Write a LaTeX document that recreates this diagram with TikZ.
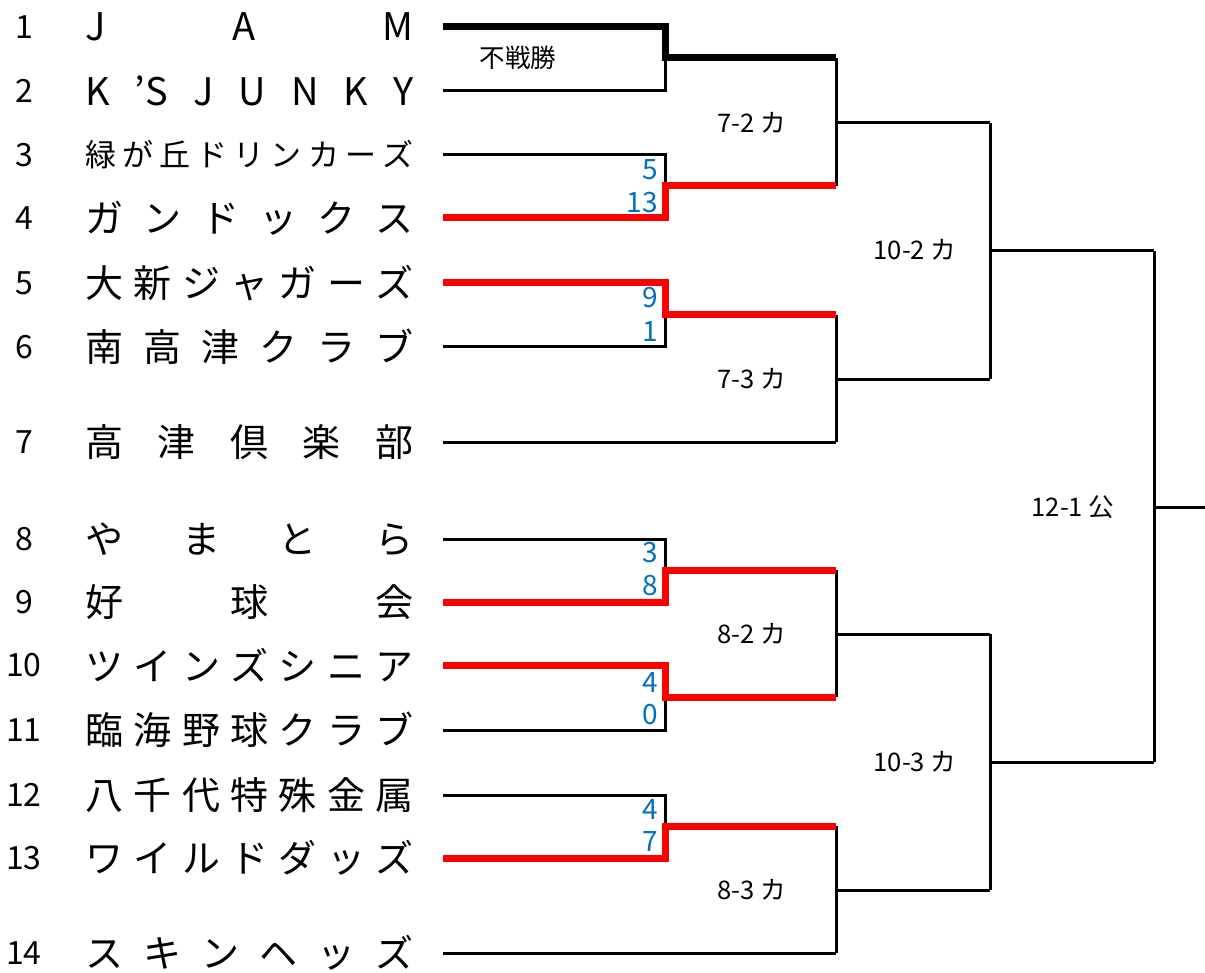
\documentclass[tikz,border=0pt]{standalone}
\usepackage{fontspec}
\setmainfont{Noto Sans CJK JP}
\definecolor{scoreblue}{HTML}{0070C0}
\newcommand{\teamname}[1]{\hbox to 164pt{#1}}
\begin{document}
\begin{tikzpicture}[x=0.5pt,y=-0.5pt,
  seed/.style={inner sep=0pt,font=\fontsize{16}{16}\selectfont},
  team/.style={anchor=west,inner sep=0pt,font=\fontsize{19}{19}\selectfont},
  score/.style={anchor=east,inner sep=0pt,text=scoreblue,font=\fontsize{14}{14}\selectfont},
  round/.style={inner sep=0pt,font=\fontsize{12.8}{12.8}\selectfont},
  line/.style={line width=1.5pt},
  win/.style={line width=3.5pt,red},
  byewin/.style={line width=3.5pt}]
\useasboundingbox (0,0) rectangle (1205,973);

% seed numbers
\foreach \n/\y in {1/27,2/91,3/155,4/218,5/283,6/347,7/442,8/539,9/602,10/665,11/730,12/795,13/858,14/953}
  \node[seed] (k\n) at (24,\y) {\n};

% team names
\node[team] (n1) at (85,27) {\teamname{J\hfill A\hfill M}};
\node[team] (n2) at (85,91) {\teamname{K\hfill ’S\hfill J\hfill U\hfill N\hfill K\hfill Y}};
\node[team,font=\fontsize{15.5}{15.5}\selectfont] (n3) at (85,155) {\teamname{緑\hfill が\hfill 丘\hfill ド\hfill リ\hfill ン\hfill カ\hfill ー\hfill ズ}};
\node[team] (n4) at (85,218) {\teamname{ガ\hfill ン\hfill ド\hfill ッ\hfill ク\hfill ス}};
\node[team] (n5) at (85,283) {\teamname{大\hfill 新\hfill ジ\hfill ャ\hfill ガ\hfill ー\hfill ズ}};
\node[team] (n6) at (85,347) {\teamname{南\hfill 高\hfill 津\hfill ク\hfill ラ\hfill ブ}};
\node[team] (n7) at (85,442) {\teamname{高\hfill 津\hfill 倶\hfill 楽\hfill 部}};
\node[team] (n8) at (85,539) {\teamname{や\hfill ま\hfill と\hfill ら}};
\node[team] (n9) at (85,602) {\teamname{好\hfill 球\hfill 会}};
\node[team] (n10) at (85,665) {\teamname{ツ\hfill イ\hfill ン\hfill ズ\hfill シ\hfill ニ\hfill ア}};
\node[team] (n11) at (85,730) {\teamname{臨\hfill 海\hfill 野\hfill 球\hfill ク\hfill ラ\hfill ブ}};
\node[team] (n12) at (85,795) {\teamname{八\hfill 千\hfill 代\hfill 特\hfill 殊\hfill 金\hfill 属}};
\node[team] (n13) at (85,858) {\teamname{ワ\hfill イ\hfill ル\hfill ド\hfill ダ\hfill ッ\hfill ズ}};
\node[team] (n14) at (85,953) {\teamname{ス\hfill キ\hfill ン\hfill ヘ\hfill ッ\hfill ズ}};

% bracket points
\foreach \n/\y in {1/27,2/91,3/155,4/218,5/283,6/347,7/442,8/539,9/602,10/665,11/730,12/795,13/858,14/953}
  \coordinate (a\n) at (443,\y);
\foreach \n/\y in {1/58,2/186,3/315,4/570,5/697,6/826}
  {\coordinate (m\n) at (665,\y); \coordinate (o\n) at (836,\y);}
\coordinate (o7) at (836,442);
\coordinate (o14) at (836,953);
\foreach \n/\y in {1/123,2/379,3/634,4/890}
  {\coordinate (r\n) at (836,\y); \coordinate (s\n) at (990,\y);}
\coordinate (t1) at (990,251); \coordinate (u1) at (1154,251);
\coordinate (t2) at (990,762); \coordinate (u2) at (1154,762);
\coordinate (v) at (1154,507); \coordinate (w) at (1205,507);

% losers and later rounds
\draw[line] (a2) -| (m1);
\draw[line] (a3) -| (m2);
\draw[line] (a6) -| (m3);
\draw[line] (a7) -- (o7);
\draw[line] (a8) -| (m4);
\draw[line] (a11) -| (m5);
\draw[line] (a12) -| (m6);
\draw[line] (a14) -- (o14);
\draw[line] (o1) -- (o2) (r1) -- (s1);
\draw[line] (o3) -- (o7) (r2) -- (s2);
\draw[line] (o4) -- (o5) (r3) -- (s3);
\draw[line] (o6) -- (o14) (r4) -- (s4);
\draw[line] (s1) -- (s2) (t1) -- (u1);
\draw[line] (s3) -- (s4) (t2) -- (u2);
\draw[line] (u1) -- (u2) (v) -- (w);

% winners
\draw[byewin] (a1) -| (m1) -- (o1);
\draw[win] (a4) -| (m2) -- (o2);
\draw[win] (a5) -| (m3) -- (o3);
\draw[win] (a9) -| (m4) -- (o4);
\draw[win] (a10) -| (m5) -- (o5);
\draw[win] (a13) -| (m6) -- (o6);

% scores
\node[score] (p3) at (658,170) {5};
\node[score] (p4) at (658,203) {13};
\node[score] (p5) at (658,298) {9};
\node[score] (p6) at (658,332) {1};
\node[score] (p8) at (658,553) {3};
\node[score] (p9) at (658,586) {8};
\node[score] (p10) at (658,683) {4};
\node[score] (p11) at (658,715) {0};
\node[score] (p12) at (658,810) {4};
\node[score] (p13) at (658,842) {7};

% round labels
\node[round] (l0) at (518,58) {不戦勝};
\node[round] (l1) at (752,123) {7-2 カ};
\node[round] (l2) at (752,379) {7-3 カ};
\node[round] (l3) at (752,634) {8-2 カ};
\node[round] (l4) at (752,890) {8-3 カ};
\node[round] (l5) at (915,250) {10-2 カ};
\node[round] (l6) at (915,762) {10-3 カ};
\node[round] (l7) at (1073,507) {12-1 公};
\end{tikzpicture}
\end{document}
